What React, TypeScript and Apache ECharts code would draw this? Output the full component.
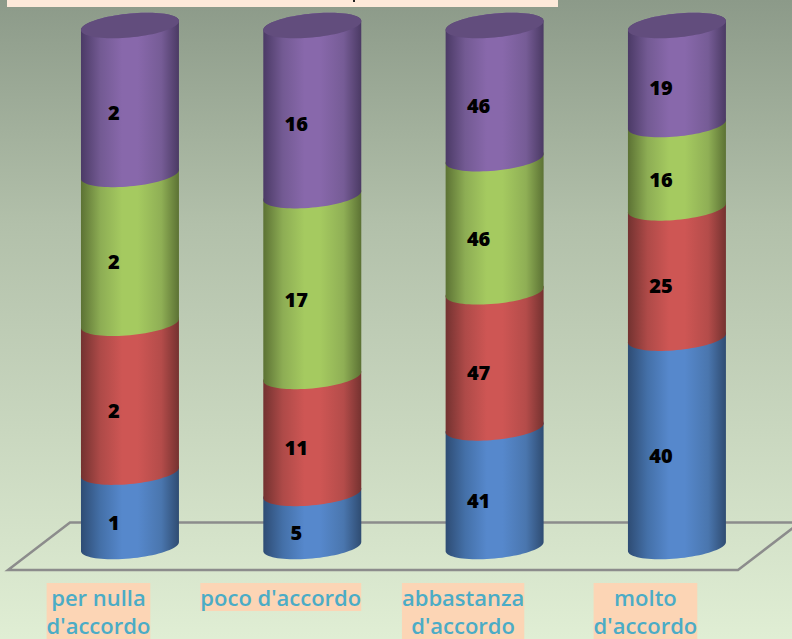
import React, { useEffect, useRef } from "react";
import * as echarts from "echarts";

const categories = ["per nulla\nd'accordo", "poco d'accordo", "abbastanza\nd'accordo", "molto\nd'accordo"];
const blueValues = [1, 5, 41, 40];
const redValues = [2, 11, 47, 25];
const greenValues = [2, 17, 46, 16];
const purpleValues = [2, 16, 46, 19];

const palette = [
  ["#2E4C74", "#4470A8", "#5688CC", "#5688CC", "#4A76AE", "#2F4C72"],
  ["#733230", "#AE4A48", "#CE5654", "#CE5654", "#B44C4A", "#753230"],
  ["#5C7234", "#8DAD54", "#A5CA60", "#A5CA60", "#8FAF55", "#5C7234"],
  ["#4B3A66", "#735A93", "#8868AB", "#8868AB", "#765C96", "#4B3A64"],
];
const stops = [0, 0.2, 0.42, 0.58, 0.82, 1];

const levels = [blueValues, redValues, greenValues, purpleValues];

function seriesData(level: number) {
  return categories.map((_, i) => {
    const total = levels.reduce((s, l) => s + l[i], 0);
    const before = levels.slice(0, level).reduce((s, l) => s + l[i], 0);
    return [i, (before / total) * 100, ((before + levels[level][i]) / total) * 100, levels[level][i]];
  });
}

function makeRender(level: number) {
  return (_params: any, api: any) => {
    const cat = api.value(0);
    const low = api.coord([cat, api.value(1)]);
    const high = api.coord([cat, api.value(2)]);
    const a = api.size([1, 0])[0] * 0.2687;
    const b = 12;
    const s = 4.5;
    const cx = low[0];
    const pt = (t: number, cy: number) => [cx + a * Math.cos(t), cy + b * Math.sin(t) - s * Math.cos(t)];
    const N = 40;
    const pts: number[][] = [];
    for (let k = 0; k <= N; k++) pts.push(pt(Math.PI + (Math.PI * k) / N, high[1]));
    for (let k = 0; k <= N; k++) pts.push(pt((Math.PI * k) / N, low[1]));
    const grad = new echarts.graphic.LinearGradient(
      0, 0, 1, 0,
      stops.map((o, j) => ({ offset: o, color: palette[level][j] }))
    );
    const children: any[] = [
      { type: "polygon", shape: { points: pts }, style: { fill: grad } },
    ];
    if (level === 3) {
      const cap: number[][] = [];
      for (let k = 0; k < 80; k++) cap.push(pt((2 * Math.PI * k) / 80, high[1]));
      children.push({ type: "polygon", shape: { points: cap }, style: { fill: "#624D7D" } });
    }
    children.push({
      type: "text",
      style: {
        x: cx - 16,
        y: (low[1] + high[1]) / 2 + 13,
        text: String(api.value(3)),
        fill: "#000000",
        font: '800 20px "Open Sans"',
        align: "center",
        verticalAlign: "middle",
      },
    });
    return { type: "group", children };
  };
}

export default function App() {
  const ref = useRef<HTMLDivElement>(null);
  useEffect(() => {
    const chart = echarts.init(ref.current!, null, { renderer: "svg" });
    chart.setOption({
      animation: false,
      backgroundColor: {
        type: "linear", x: 0, y: 0, x2: 0, y2: 1,
        colorStops: [
          { offset: 0, color: "#8C9A89" },
          { offset: 0.35, color: "#B2C0AA" },
          { offset: 1, color: "#E0EED4" },
        ],
      },
      grid: [
        { left: 38.8, width: 729.3, top: 25.5, height: 521 },
        { left: 7.3, width: 729.3, top: 25.5, height: 521 },
      ],
      xAxis: [
        { type: "category", gridIndex: 0, data: categories, axisLine: { show: false }, axisTick: { show: false }, axisLabel: { show: false } },
        {
          type: "category", gridIndex: 1, data: categories,
          axisLine: { show: false }, axisTick: { show: false },
          axisLabel: {
            interval: 0, margin: 37.5, color: "#4BACC6", backgroundColor: "#FCD5B5",
            fontFamily: "Open Sans", fontSize: 22, fontWeight: 600, lineHeight: 28, verticalAlign: "top",
          },
        },
      ],
      yAxis: [
        { type: "value", gridIndex: 0, min: 0, max: 100, show: false },
        { type: "value", gridIndex: 1, min: 0, max: 100, show: false },
      ],
      graphic: [
        { type: "rect", z: 1, shape: { x: 7, y: 0, width: 551, height: 7 }, style: { fill: "#FDE9D9" } },
        { type: "rect", z: 2, shape: { x: 353, y: 0, width: 2, height: 2 }, style: { fill: "#222222" } },
        {
          type: "polyline", z: 1,
          shape: { points: [[800, 522.5], [70, 522.5], [8, 570], [738, 570], [800, 522.5]] },
          style: { stroke: "#8C8C8C", lineWidth: 2.5, fill: "none" },
        },
      ],
      series: levels.map((_, level) => ({
        type: "custom",
        name: ["blue", "red", "green", "purple"][level],
        coordinateSystem: "cartesian2d",
        xAxisIndex: 0, yAxisIndex: 0, z: 5 + level,
        clip: false,
        data: seriesData(level),
        renderItem: makeRender(level),
      })),
    });
    return () => chart.dispose();
  }, []);
  return <div ref={ref} style={{ position: "absolute", left: 0, top: 0, width: 792, height: 639 }} />;
}
